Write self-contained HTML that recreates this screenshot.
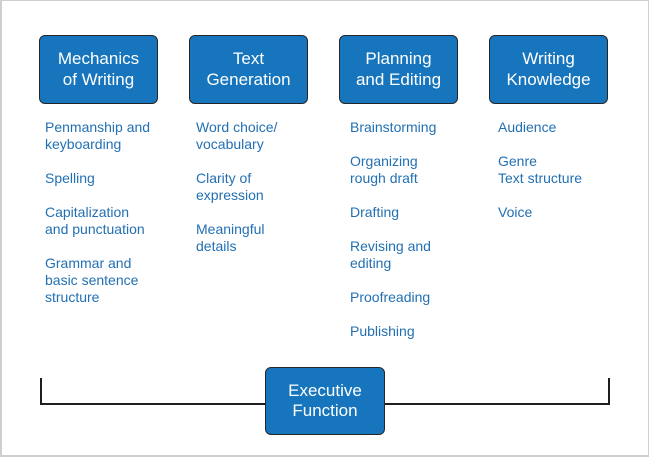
<!DOCTYPE html>
<html>
<head>
<meta charset="utf-8">
<style>
  html, body { margin: 0; padding: 0; background: #fff; }
  body { width: 650px; height: 457px; position: relative; overflow: hidden;
         font-family: "Liberation Sans", sans-serif; }
  .frame { position: absolute; left: 0; top: 0; width: 646px; height: 454px;
           border: 1px solid #cfcfcf; border-left-width: 2px; border-bottom-width: 2px; }
  .box { position: absolute; box-sizing: border-box; background: #1675bd;
         border: 1.5px solid #262626; border-radius: 6px; color: #fff;
         font-size: 17px; line-height: 20.5px; text-align: center;
         display: flex; align-items: center; justify-content: center; }
  .col { position: absolute; top: 119px; color: #2270b3; font-size: 14px;
         line-height: 17px; white-space: nowrap; }
  .col p { margin: 0 0 17px 0; }
  .line { position: absolute; background: #1e1e1e; }
</style>
</head>
<body>
<div class="frame"></div>

<div class="box" style="left:39px;top:35px;width:119px;height:69px;">Mechanics<br>of Writing</div>
<div class="box" style="left:189px;top:35px;width:119px;height:69px;">Text<br>Generation</div>
<div class="box" style="left:339px;top:35px;width:119px;height:69px;">Planning<br>and Editing</div>
<div class="box" style="left:489px;top:35px;width:119px;height:69px;">Writing<br>Knowledge</div>

<div class="col" style="left:45px;">
  <p>Penmanship and<br>keyboarding</p>
  <p>Spelling</p>
  <p>Capitalization<br>and punctuation</p>
  <p>Grammar and<br>basic sentence<br>structure</p>
</div>
<div class="col" style="left:196px;">
  <p>Word choice/<br>vocabulary</p>
  <p>Clarity of<br>expression</p>
  <p>Meaningful<br>details</p>
</div>
<div class="col" style="left:350px;">
  <p>Brainstorming</p>
  <p>Organizing<br>rough draft</p>
  <p>Drafting</p>
  <p>Revising and<br>editing</p>
  <p>Proofreading</p>
  <p>Publishing</p>
</div>
<div class="col" style="left:498px;">
  <p>Audience</p>
  <p>Genre<br>Text structure</p>
  <p>Voice</p>
</div>

<!-- bracket -->
<div class="line" style="left:40px;top:378px;width:2px;height:27px;"></div>
<div class="line" style="left:608px;top:378px;width:2px;height:27px;"></div>
<div class="line" style="left:40px;top:403px;width:570px;height:2px;"></div>

<div class="box" style="left:265px;top:367px;width:120px;height:68px;">Executive<br>Function</div>
</body>
</html>
